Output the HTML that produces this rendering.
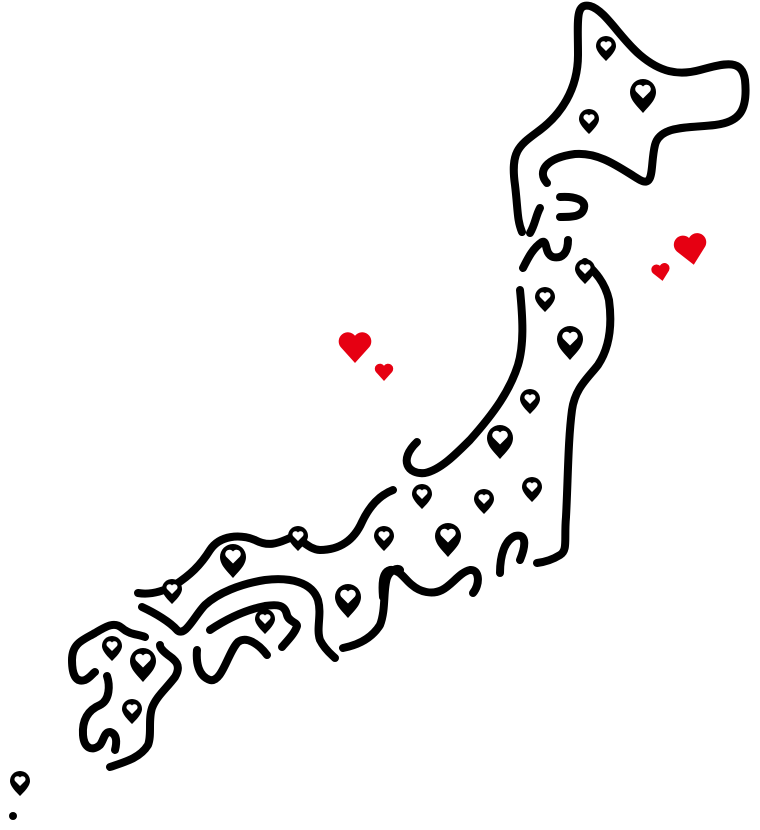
<!DOCTYPE html>
<html><head><style>html,body{margin:0;padding:0;background:#fff;}svg{display:block}</style></head>
<body>
<svg width="760" height="830" viewBox="0 0 760 830" xmlns="http://www.w3.org/2000/svg">
<defs>
<g id="ps"><path d="M0,14 C-4,10 -10,4 -10,-1 A10 10 0 0 1 10 -1 C10,4 4,10 0,14Z" fill="#000"/><path d="M0,4 L-5,-1 A2.6 2.6 0 0 1 0,-4.5 A2.6 2.6 0 0 1 5,-1 Z" fill="#fff"/></g>
<g id="pl"><path d="M0,20 C-6,13 -13,7 -13,-1 A13 13 0 0 1 13 -1 C13,7 6,13 0,20Z" fill="#000"/><path d="M0,5.5 L-7,-1.5 A3.6 3.6 0 0 1 0,-6.5 A3.6 3.6 0 0 1 7,-1.5 Z" fill="#fff"/></g>
<path id="hr" d="M0,10 L-9,0 A5 5 0 0 1 0,-7 A5 5 0 0 1 9,0 Z" fill="#e60012"/>
</defs>
<g fill="none" stroke="#000" stroke-width="8" stroke-linecap="round" stroke-linejoin="round">
<path d="M547,183 C537,172 545,158 575,154 C600,152 620,168 640,180 C655,188 650,165 655,145 C660,125 690,128 715,125 C740,122 748,110 745,80 C742,60 728,62 700,70 C678,76 660,72 640,55 C620,38 605,10 590,6 C575,3 578,20 578,55 C578,90 560,115 540,130 C520,145 510,150 515,185 C518,210 517,220 522,232"/>
<path d="M540,208 C536,215 535,225 530,233"/>
<path d="M560,197 C575,196 586,200 584,208 C582,217 572,217 560,217"/>
<path d="M523,268 C528,258 533,248 542,242 C548,240 544,254 553,257 C562,259 568,253 568,240"/>
<path d="M585,262 C595,272 605,282 609,300 C613,330 608,350 598,365 C588,378 575,388 572,410 C568,440 568,480 566,517 C564,540 568,550 560,555 C552,560 545,562 537,563"/>
<path d="M520,290 C523,320 524,345 518,365 C510,390 495,412 470,440 C455,455 440,470 425,473 C408,475 398,460 417,442"/>
<path d="M500,573 C500,555 505,540 515,536 C528,533 525,548 520,560"/>
<path d="M393,490 C380,495 370,505 362,522 C354,540 340,550 320,550 C306,549 300,535 290,538 C280,542 270,548 255,540 C240,534 220,535 210,550 C200,566 190,575 175,585 C162,592 150,595 138,593"/>
<path d="M142,607 C155,613 170,622 177,630 C185,638 195,615 205,605 C218,593 240,584 265,580 C290,577 312,582 318,600 C322,615 316,628 320,640 C325,650 332,655 335,658"/>
<path d="M343,648 C358,645 372,638 380,625 C386,610 383,590 387,578 C390,570 398,567 400,570"/>
<path d="M383,597 C382,585 382,572 390,570 C400,569 405,580 412,585 C420,592 432,595 442,590 C452,585 460,572 470,570 C480,569 480,585 473,593"/>
<path d="M210,630 C225,620 245,610 265,606 C278,604 285,605 287,615 C289,622 297,622 297,626 C295,633 288,640 282,647"/>
<path d="M197,650 C196,662 198,676 210,680 C222,683 228,652 238,642 C246,636 258,643 267,655"/>
<path d="M145,637 C138,634 130,635 122,628 C115,622 108,625 95,633 C83,640 72,643 72,660 C72,675 76,683 85,680 C90,678 93,673 95,672"/>
<path d="M107,676 C110,685 110,700 100,705 C88,710 82,720 83,735 C84,748 92,752 100,745 C104,740 104,732 110,732 C117,734 117,742 115,750"/>
<path d="M110,767 C125,762 140,758 148,745 C152,735 148,720 152,708 C156,697 165,690 175,677 C182,665 175,660 168,655 C163,651 160,648 160,645"/>
</g>
<circle cx="13" cy="816" r="4" fill="#000"/>
<use href="#ps" x="606" y="47"/><use href="#pl" x="643" y="93"/><use href="#ps" x="589" y="120"/>
<use href="#ps" x="585" y="270"/><use href="#ps" x="545" y="298"/><use href="#pl" x="570" y="340"/>
<use href="#ps" x="530" y="400"/><use href="#pl" x="500" y="439"/><use href="#ps" x="422" y="495"/>
<use href="#ps" x="484" y="500"/><use href="#ps" x="532" y="488"/><use href="#ps" x="384" y="537"/>
<use href="#pl" x="448" y="537"/><use href="#ps" x="298" y="537"/><use href="#pl" x="233" y="558"/>
<use href="#ps" x="172" y="590"/><use href="#pl" x="348" y="598"/><use href="#ps" x="265" y="620"/>
<use href="#ps" x="112" y="647"/><use href="#pl" x="143" y="662"/><use href="#ps" x="132" y="710"/>
<use href="#ps" x="20" y="782"/>
<use href="#hr" transform="translate(355,347) scale(1.6)"/>
<use href="#hr" transform="translate(384,372) scale(0.9)"/>
<use href="#hr" transform="translate(691,249) scale(1.6) rotate(-10)"/>
<use href="#hr" transform="translate(661,272) scale(0.9) rotate(-10)"/>
</svg>
</body></html>
